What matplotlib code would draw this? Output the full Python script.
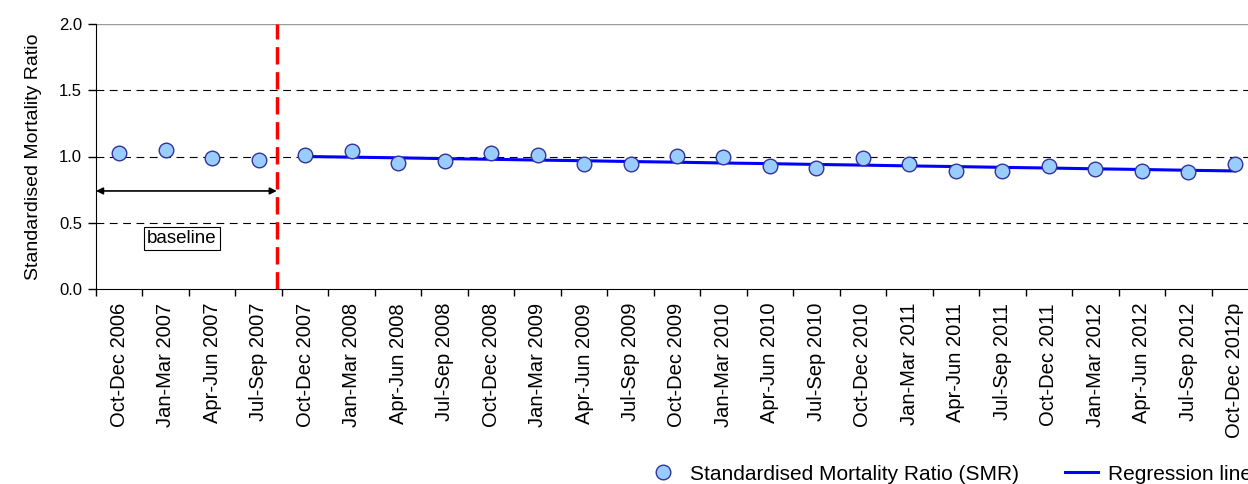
import matplotlib.pyplot as plt

plt.rcParams['font.family'] = ['Liberation Sans', 'DejaVu Sans']

quarters = ['Oct-Dec 2006', 'Jan-Mar 2007', 'Apr-Jun 2007', 'Jul-Sep 2007',
            'Oct-Dec 2007', 'Jan-Mar 2008', 'Apr-Jun 2008', 'Jul-Sep 2008',
            'Oct-Dec 2008', 'Jan-Mar 2009', 'Apr-Jun 2009', 'Jul-Sep 2009',
            'Oct-Dec 2009', 'Jan-Mar 2010', 'Apr-Jun 2010', 'Jul-Sep 2010',
            'Oct-Dec 2010', 'Jan-Mar 2011', 'Apr-Jun 2011', 'Jul-Sep 2011',
            'Oct-Dec 2011', 'Jan-Mar 2012', 'Apr-Jun 2012', 'Jul-Sep 2012',
            'Oct-Dec 2012p']
smr = [1.025, 1.047, 0.985, 0.972,
       1.013, 1.038, 0.952, 0.965, 1.028, 1.008, 0.942, 0.945,
       1.005, 0.997, 0.932, 0.912, 0.985, 0.945, 0.892, 0.892,
       0.925, 0.902, 0.889, 0.882, 0.947]
# regression line starts after the baseline period (from Oct-Dec 2007)
reg_start = 4
regression = [1.000, 0.995, 0.990, 0.984, 0.979, 0.973, 0.968, 0.962,
              0.957, 0.951, 0.946, 0.940, 0.935, 0.929, 0.924, 0.918,
              0.913, 0.907, 0.902, 0.896, 0.891]

fig = plt.figure(figsize=(12.48, 4.84), dpi=100)
ax = fig.add_axes([96 / 1248, 1 - 289 / 484, 1162 / 1248, 265 / 484])

x = list(range(len(quarters)))
xr = x[reg_start:]

for yv in [0.5, 1.0, 1.5]:
    ax.axhline(yv, color='black', lw=0.8, ls=(0, (7, 5)), zorder=1)
ax.axhline(2.0, color='#999999', lw=1, zorder=1)

ax.plot(xr, regression, color='#0000FF', lw=2.2, zorder=3, label='Regression line')
ax.plot(x, smr, ls='none', marker='o', ms=10.5, mfc='#99CCFF', mec='#333399',
        mew=1.0, zorder=4, label='Standardised Mortality Ratio (SMR)')

# end of the baseline period
ax.axvline(3.39, color='#FF0000', lw=2.5, ls=(0, (5, 2.2)), zorder=5)
ax.annotate('', xy=(-0.5, 0.74), xytext=(3.39, 0.74),
            arrowprops=dict(arrowstyle='<|-|>', color='black', lw=1.2,
                            mutation_scale=10, shrinkA=0, shrinkB=0))
ax.text(1.35, 0.38, 'baseline', ha='center', va='center', fontsize=13.5,
        bbox=dict(boxstyle='square,pad=0.15', fc='white', ec='black', lw=0.8))

ax.set_xlim(-0.5, len(quarters) - 0.5)
ax.set_ylim(0, 2.0)
ax.set_yticks([0, 0.5, 1.0, 1.5, 2.0])
ax.set_yticklabels(['0.0', '0.5', '1.0', '1.5', '2.0'], fontsize=12)
ax.set_xticks([i - 0.5 for i in x] + [len(quarters) - 0.5])
ax.set_xticklabels([])
ax.set_xticks(x, minor=True)
ax.set_xticklabels(quarters, minor=True, rotation=90, fontsize=14.5)
ax.tick_params(axis='x', which='minor', length=0, pad=10)
ax.tick_params(axis='x', which='major', length=5, width=1)
ax.tick_params(axis='y', length=6, width=1, pad=4)
ax.set_ylabel('Standardised Mortality Ratio', fontsize=14, labelpad=12)

for s in ['top', 'right']:
    ax.spines[s].set_visible(False)

h, l = ax.get_legend_handles_labels()
fig.legend(h[::-1], l[::-1], loc='center left', bbox_to_anchor=(646 / 1248, 1 - 474 / 484),
           ncol=2, frameon=False, fontsize=15, handlelength=1.6, columnspacing=2.2,
           handletextpad=0.5, borderpad=0, borderaxespad=0)

fig.savefig('out.png', dpi=100)
